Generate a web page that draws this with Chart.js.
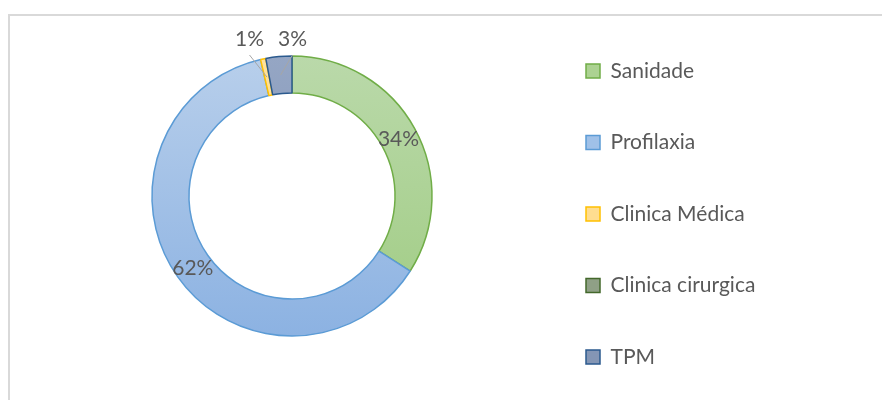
<!DOCTYPE html>
<html>
<head>
<meta charset="utf-8">
<script src="https://cdn.jsdelivr.net/npm/chart.js@4.4.1/dist/chart.umd.min.js"></script>
<style>
    html, body { margin: 0; padding: 0; width: 882px; height: 400px; overflow: hidden; background: #fff; }
    #frame { position: absolute; left: 8px; top: 14px; width: 900px; height: 420px; border-top: 2px solid #d9d9d9; border-left: 2px solid #d9d9d9; }
    #chart { position: absolute; left: 10px; top: -26px; }
</style>
</head>
<body>
<div id="frame"></div>
<canvas id="chart" width="872" height="444"></canvas>
<script>
const categories = ['Sanidade', 'Profilaxia', 'Clinica Médica', 'Clinica cirurgica', 'TPM'];
const shares = [34.0, 62.4, 0.6, 0, 3.0];

const gradientTop = ['#bad9aa', '#b8cfeb', '#ffe29e', '#a3b496', '#95a6c4'];
const gradientBottom = ['#a0cc83', '#8cb2e2', '#ffd35a', '#7f9670', '#7b8fb4'];
const borderColors = ['#70ad47', '#5b9bd5', '#ffc000', '#43682b', '#2b5a8e'];
const legendFills = ['#acd292', '#a0c1e8', '#ffdd90', '#8fa086', '#8496b5'];

const FONT = 'Lato';
const LEGEND_SIZE = 21;
const LEGEND_GAP = 50.5;
const LEGEND_X = 576;   // canvas x of the legend boxes
const BOX = 14;
const RADIUS = 140;

document.addEventListener('DOMContentLoaded', () => {
    drawChart();
});

function drawChart() {
    const canvas = document.getElementById('chart');

    // legend sits at the right edge, so pad it in until the boxes line up
    const measure = document.createElement('canvas').getContext('2d');
    measure.font = `${LEGEND_SIZE}px ${FONT}`;
    const widest = Math.max(...categories.map(c => measure.measureText(c).width));
    const rightPad = canvas.width - LEGEND_X - BOX - LEGEND_SIZE / 2 - widest - 10;

    function sliceFill(context) {
        const area = context.chart.chartArea;
        const i = context.dataIndex;
        if (!area) return gradientBottom[i];
        const cy = (area.top + area.bottom) / 2;
        const g = context.chart.ctx.createLinearGradient(0, cy - RADIUS, 0, cy + RADIUS);
        g.addColorStop(0, gradientTop[i]);
        g.addColorStop(1, gradientBottom[i]);
        return g;
    }

    const percentLabels = {
        id: 'percentLabels',
        afterDatasetsDraw(chart) {
            const ctx = chart.ctx;
            const meta = chart.getDatasetMeta(0);
            const total = shares.reduce((a, b) => a + b, 0);
            const outside = [];

            ctx.save();
            ctx.font = `${LEGEND_SIZE}px ${FONT}`;
            ctx.fillStyle = '#595959';
            ctx.textAlign = 'center';
            ctx.textBaseline = 'middle';

            meta.data.forEach((arc, i) => {
                const v = shares[i];
                if (!v) return;
                const text = Math.round(v / total * 100) + '%';
                const pos = arc.tooltipPosition();
                if (v / total >= 0.05) {
                    ctx.fillText(text, pos.x, pos.y + 2);
                } else {
                    const mid = (arc.startAngle + arc.endAngle) / 2;
                    outside.push({
                        text,
                        pos,
                        x: arc.x + Math.cos(mid) * arc.outerRadius,
                        y: arc.y - arc.outerRadius - 18
                    });
                }
            });

            // small slices: labels above the ring, spread apart
            outside.sort((a, b) => a.x - b.x);
            const meanX = outside.reduce((s, o) => s + o.x, 0) / (outside.length || 1);
            outside.forEach((o, k) => {
                const lx = meanX + (k - (outside.length - 1) / 2) * 43;
                ctx.strokeStyle = '#a6a6a6';
                ctx.lineWidth = 1;
                ctx.beginPath();
                ctx.moveTo(lx, o.y + 17);
                ctx.lineTo(o.pos.x, o.pos.y);
                ctx.stroke();
                ctx.fillText(o.text, lx, o.y + 1);
            });
            ctx.restore();
        }
    };

    new Chart(canvas, {
        type: 'doughnut',
        data: {
            labels: categories,
            datasets: [{
                data: shares,
                backgroundColor: sliceFill,
                borderColor: borderColors,
                borderWidth: 1.5,
                radius: RADIUS,
                cutout: '73.6%'
            }]
        },
        options: {
            responsive: false,
            animation: false,
            events: [],
            layout: {
                padding: { left: 38.5, right: rightPad, top: 0, bottom: 0 }
            },
            plugins: {
                tooltip: { enabled: false },
                legend: {
                    position: 'right',
                    align: 'end',
                    labels: {
                        boxWidth: BOX,
                        boxHeight: BOX,
                        padding: LEGEND_GAP,
                        color: '#595959',
                        font: { family: FONT, size: LEGEND_SIZE },
                        generateLabels: () => categories.map((c, i) => ({
                            text: c,
                            fillStyle: legendFills[i],
                            strokeStyle: borderColors[i],
                            lineWidth: 1.5,
                            fontColor: '#595959',
                            hidden: false,
                            index: i
                        }))
                    }
                }
            }
        },
        plugins: [percentLabels]
    });
}
</script>
</body>
</html>
